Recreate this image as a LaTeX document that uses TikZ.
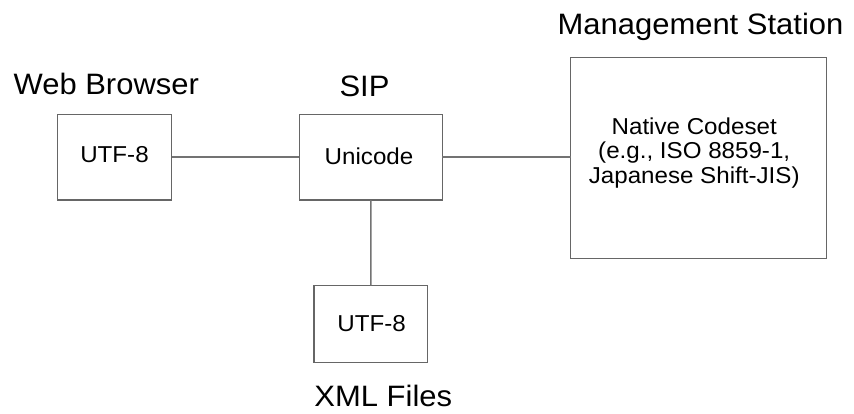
\documentclass[tikz,border=0pt]{standalone}
\usepackage{fontspec}
\setmainfont{Liberation Sans}[FakeStretch=1.05]
\begin{document}
\begin{tikzpicture}[x=1pt,y=-1pt,
  box/.style={draw=black!60,line width=1.4pt,rectangle,inner sep=0pt,outer sep=0pt},
  wire/.style={draw=black!55,line width=1.4pt},
  title/.style={anchor=base,inner sep=0pt,font=\fontsize{29.5}{35}\selectfont},
  inbox/.style={anchor=base,inner sep=0pt,font=\fontsize{23}{27}\selectfont}]
\useasboundingbox (0,0) rectangle (854,414);

% boxes
\node[box,minimum width=114.4pt,minimum height=85.7pt] (web) at (114.5,157.15) {};
\node[box,minimum width=143pt,minimum height=85.7pt] (sip) at (370.8,157.15) {};
\node[box,minimum width=256pt,minimum height=201pt] (mgmt) at (698.7,157.8) {};
\node[box,minimum width=113.7pt,minimum height=76.6pt] (xml) at (370.9,324) {};

% connectors
\draw[wire] (web.east) -- (sip.west);
\draw[wire] (sip.east) -- (sip.east -| mgmt.west);
\draw[wire] (sip.south) -- (xml.north);

% titles
\node[title] (webT) at (106.3,94.3) {Web Browser};
\node[title] (sipT) at (364.5,96.7) {SIP};
\node[title] (mgmtT) at (700.5,35) {Management Station};
\node[title] (xmlT) at (383.3,406.5) {XML Files};

% box contents
\node[inbox] (webC) at (114.5,162.7) {UTF-8};
\node[inbox] (sipC) at (369,164.3) {Unicode};
\node[inbox] (xmlC) at (371.7,331) {UTF-8};
\node[inbox] (mgmtC1) at (694.2,134.3) {Native Codeset};
\node[inbox] (mgmtC2) at (694.2,159) {(e.g., ISO 8859-1,};
\node[inbox] (mgmtC3) at (694.2,183.5) {Japanese Shift-JIS)};
\end{tikzpicture}
\end{document}
